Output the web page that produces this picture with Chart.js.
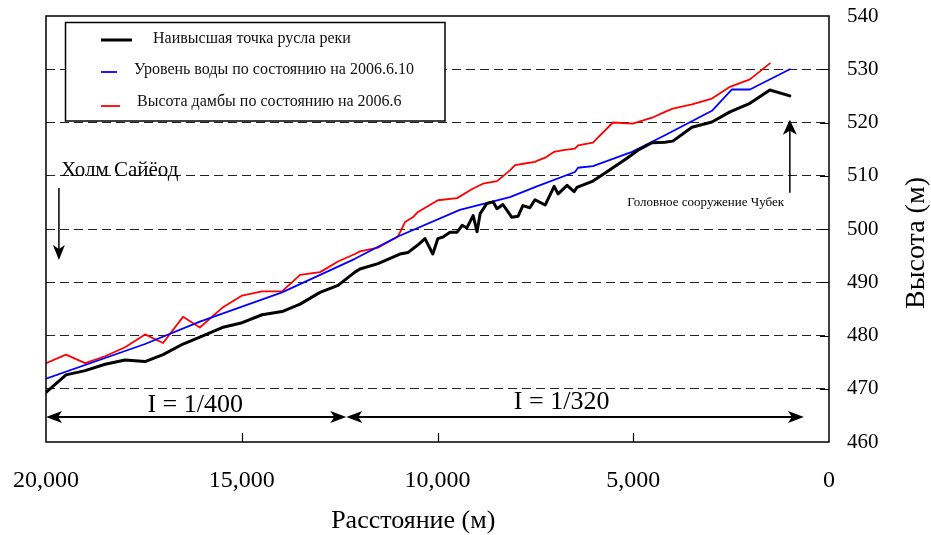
<!DOCTYPE html>
<html>
<head>
<meta charset="utf-8">
<script src="https://cdn.jsdelivr.net/npm/chart.js@4.4.1/dist/chart.umd.min.js"></script>
<style>
  html, body { margin: 0; padding: 0; background: #fff; }
  #wrap { width: 931px; height: 535px; }
</style>
</head>
<body>
<div id="wrap"><canvas id="c" width="931" height="535"></canvas></div>
<script>
// Longitudinal profile: distance upstream of the Chubek headworks (m) vs. elevation (m)
const bedDist = [20000,19490,19000,18490,17980,17470,17010,16500,16070,15500,14990,14480,13970,13510,13000,12540,12110,11980,11520,10960,10750,10520,10320,10120,9990,9860,9680,9500,9370,9250,9090,8990,8910,8740,8580,8480,8330,8100,7940,7820,7640,7510,7250,7020,6920,6690,6510,6440,6030,5700,5160,4880,4520,4190,3990,3500,2990,2530,2020,1510,1000];
const bedElev = [469.3,472.6,473.4,474.6,475.4,475.1,476.4,478.4,479.7,481.5,482.4,483.9,484.5,485.9,488.1,489.4,491.9,492.5,493.5,495.3,495.6,496.9,498.2,495.3,498.2,498.5,499.4,499.4,500.7,500.2,502.5,499.5,502.9,504.8,505.1,503.8,504.6,502.2,502.4,504.4,504.0,505.5,504.5,508.0,506.6,508.2,507.0,507.8,509.0,510.6,513.3,514.8,516.2,516.3,516.5,519.1,520.1,522.0,523.6,526.1,525.0];

const waterDist = [20000,17470,16070,13970,12110,11010,9430,8150,7460,6490,6410,6030,5030,4190,2990,2480,2020,1000];
const waterElev = [471.9,478.4,482.6,488.1,494.4,498.6,503.6,506.0,508.0,510.7,511.5,511.8,514.5,517.6,522.2,526.2,526.2,530.0];

const damDist = [20000,19490,19000,18490,17980,17470,17010,16500,16070,15500,14990,14480,13970,13510,13000,12540,12110,11980,11520,11010,10830,10630,10500,9990,9500,9090,8840,8480,8150,8020,7770,7510,7430,7250,7020,6790,6490,6410,6030,5520,5010,4520,4190,3990,3500,2990,2530,2020,1510];
const damElev = [474.8,476.4,474.8,476.1,477.8,480.2,478.6,483.5,481.5,485.2,487.5,488.3,488.3,491.4,491.9,493.9,495.3,495.8,496.5,498.6,501.3,502.2,503.2,505.4,505.8,507.6,508.5,509.0,511.0,512.0,512.3,512.6,512.9,513.4,514.5,514.8,515.1,515.7,516.2,520.0,519.8,520.9,522.0,522.6,523.4,524.5,526.7,528.1,531.1];

const seriesNames = [
  'Наивысшая точка русла реки',
  'Уровень воды по состоянию на 2006.6.10',
  'Высота дамбы по состоянию на 2006.6'
];

const xTicks = [20000, 15000, 10000, 5000, 0];
const yTicks = [460, 470, 480, 490, 500, 510, 520, 530, 540];

const xTitle = 'Расстояние (м)';
const yTitle = 'Высота (м)';

// Slope reaches along the bottom of the plot
const reachBreaks = [20000, 12330, 640];
const reachLabels = ['I = 1/400', 'I = 1/320'];

const pts = (xs, ys) => xs.map((x, i) => ({ x: x, y: ys[i] }));

const SERIF = "'Liberation Serif', 'Times New Roman', serif";

// Arrowhead with a notched back, pointing along (ux, uy)
function arrowHead(ctx, tx, ty, ux, uy, len, half, notch) {
  const px = -uy, py = ux;
  ctx.beginPath();
  ctx.moveTo(tx, ty);
  ctx.lineTo(tx - ux * len + px * half, ty - uy * len + py * half);
  ctx.lineTo(tx - ux * (len - notch), ty - uy * (len - notch));
  ctx.lineTo(tx - ux * len - px * half, ty - uy * len - py * half);
  ctx.closePath();
  ctx.fill();
}

function arrow(ctx, x1, y1, x2, y2, opts) {
  const dx = x2 - x1, dy = y2 - y1, L = Math.hypot(dx, dy);
  const ux = dx / L, uy = dy / L;
  ctx.beginPath();
  ctx.moveTo(opts.both ? x1 + ux * 6 : x1, opts.both ? y1 + uy * 6 : y1);
  ctx.lineTo(x2 - ux * 6, y2 - uy * 6);
  ctx.stroke();
  arrowHead(ctx, x2, y2, ux, uy, opts.len, opts.half, opts.notch);
  if (opts.both) arrowHead(ctx, x1, y1, -ux, -uy, opts.len, opts.half, opts.notch);
}

// keep the plot frame fixed: no extra room for overhanging edge labels
function noOverhang(s) {
  s.paddingLeft = 0; s.paddingRight = 0; s.paddingTop = 0; s.paddingBottom = 0;
}

const decorations = {
  id: 'decorations',
  afterDatasetsDraw(chart) {
    const { ctx, chartArea: a, scales: { x, y } } = chart;
    ctx.save();

    // frame around the plot
    ctx.strokeStyle = '#000';
    ctx.lineWidth = 1.5;
    ctx.strokeRect(a.left, a.top, a.right - a.left, a.bottom - a.top);

    // short inward tick marks
    ctx.lineWidth = 1.2;
    ctx.beginPath();
    yTicks.slice(1, -1).forEach(v => {
      const py = Math.round(y.getPixelForValue(v)) + 0.5;
      ctx.moveTo(a.right - 9, py); ctx.lineTo(a.right, py);
    });
    xTicks.slice(1, -1).forEach(v => {
      const px = Math.round(x.getPixelForValue(v)) + 0.5;
      ctx.moveTo(px, a.bottom - 9); ctx.lineTo(px, a.bottom);
    });
    ctx.stroke();

    // legend box
    const lb = { left: 65.5, top: 22.5, right: 445, bottom: 121 };
    ctx.fillStyle = '#fff';
    ctx.fillRect(lb.left, lb.top, lb.right - lb.left, lb.bottom - lb.top);
    ctx.lineWidth = 1.5;
    ctx.strokeStyle = '#000';
    ctx.strokeRect(lb.left, lb.top, lb.right - lb.left, lb.bottom - lb.top);
    const rows = [
      { y: 40, x0: 101, x1: 132, tx: 153, ty: 39 },
      { y: 72, x0: 101, x1: 117, tx: 134, ty: 70 },
      { y: 106, x0: 101, x1: 120, tx: 137, ty: 102 }
    ];
    ctx.font = '16px ' + SERIF;
    ctx.textBaseline = 'middle';
    ctx.textAlign = 'left';
    chart.data.datasets.forEach((ds, i) => {
      const r = rows[i];
      ctx.strokeStyle = ds.borderColor;
      ctx.lineWidth = ds.borderWidth;
      ctx.beginPath(); ctx.moveTo(r.x0, r.y); ctx.lineTo(r.x1, r.y); ctx.stroke();
      ctx.fillStyle = '#111';
      ctx.fillText(ds.label, r.tx, r.ty);
    });

    ctx.fillStyle = '#000';
    ctx.strokeStyle = '#000';

    // Saiyod hill marker
    ctx.font = '21px ' + SERIF;
    ctx.textAlign = 'left';
    ctx.fillText('Холм Сайёод', x.getPixelForValue(19620), y.getPixelForValue(510.9));
    ctx.lineWidth = 1.5;
    arrow(ctx, x.getPixelForValue(19670), y.getPixelForValue(507.7),
               x.getPixelForValue(19670), y.getPixelForValue(494.2),
               { len: 15, half: 6, notch: 4 });

    // Chubek headworks marker
    ctx.font = '13px ' + SERIF;
    ctx.textAlign = 'center';
    ctx.fillText('Головное сооружение Чубек', x.getPixelForValue(3150), y.getPixelForValue(504.9));
    arrow(ctx, x.getPixelForValue(1000), y.getPixelForValue(506.8),
               x.getPixelForValue(1000), y.getPixelForValue(520.5),
               { len: 15, half: 7, notch: 4 });

    // bed slope reaches
    ctx.lineWidth = 2;
    const yr = y.getPixelForValue(464.7);
    for (let i = 0; i < reachBreaks.length - 1; i++) {
      arrow(ctx, x.getPixelForValue(reachBreaks[i]), yr,
                 x.getPixelForValue(reachBreaks[i + 1]), yr,
                 { len: 16, half: 6, notch: 4, both: true });
    }
    ctx.font = '26px ' + SERIF;
    ctx.textAlign = 'center';
    ctx.fillText(reachLabels[0], x.getPixelForValue(16190), y.getPixelForValue(466.9));
    ctx.fillText(reachLabels[1], x.getPixelForValue(6830), y.getPixelForValue(467.4));

    // horizontal axis title
    ctx.font = '26px ' + SERIF;
    ctx.textAlign = 'center';
    ctx.fillText(xTitle, x.getPixelForValue(10620), 521);

    // vertical axis title, reading bottom to top
    ctx.translate(917, (a.top + a.bottom) / 2 + 14);
    ctx.rotate(-Math.PI / 2);
    ctx.font = '28px ' + SERIF;
    ctx.textAlign = 'center';
    ctx.fillText(yTitle, 0, 0);

    ctx.restore();
  }
};

new Chart(document.getElementById('c'), {
  type: 'line',
  data: {
    datasets: [
      { label: seriesNames[0], data: pts(bedDist, bedElev), borderColor: '#000000', borderWidth: 3 },
      { label: seriesNames[1], data: pts(waterDist, waterElev), borderColor: '#0000ff', borderWidth: 1.8 },
      { label: seriesNames[2], data: pts(damDist, damElev), borderColor: '#ff0000', borderWidth: 1.8 }
    ]
  },
  options: {
    responsive: false,
    animation: false,
    devicePixelRatio: 1,
    elements: { point: { radius: 0 }, line: { tension: 0, borderJoinStyle: 'round', borderCapStyle: 'round' } },
    layout: { padding: { left: 46, top: 16, right: 0, bottom: 0 } },
    plugins: { legend: { display: false }, tooltip: { enabled: false } },
    scales: {
      x: {
        type: 'linear',
        reverse: true,
        min: 0,
        max: 20000,
        afterBuildTicks: s => { s.ticks = xTicks.map(v => ({ value: v })); },
        ticks: {
          autoSkip: false,
          maxRotation: 0,
          color: '#000',
          padding: 24,
          font: { family: SERIF, size: 24 },
          callback: v => v.toLocaleString('en-US')
        },
        grid: { display: false, drawTicks: false },
        border: { display: false },
        afterFit: s => { s.height = 93; noOverhang(s); }
      },
      y: {
        position: 'right',
        min: 460,
        max: 540,
        afterBuildTicks: s => { s.ticks = yTicks.map(v => ({ value: v })); },
        ticks: {
          color: '#000',
          padding: 18,
          font: { family: SERIF, size: 21 }
        },
        grid: {
          drawTicks: false,
          lineWidth: 1,
          color: c => (c.tick && (c.tick.value === 460 || c.tick.value === 540)) ? 'rgba(0,0,0,0)' : '#222'
        },
        border: { display: false, dash: [9, 5] },
        afterFit: s => { s.width = 102; noOverhang(s); }
      }
    }
  },
  plugins: [decorations]
});
</script>
</body>
</html>
